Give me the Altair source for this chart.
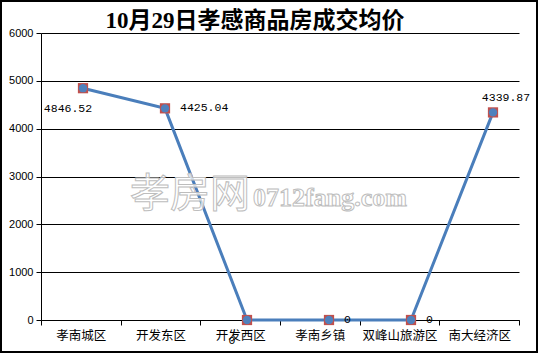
import altair as alt
import pandas as pd

# ---- data ----
categories = ["孝南城区", "开发东区", "开发西区", "孝南乡镇", "双峰山旅游区", "南大经济区"]
prices = [4846.52, 4425.04, 0, 0, 0, 4339.87]
y_ticks = [0, 1000, 2000, 3000, 4000, 5000, 6000]
title_text = "10月29日孝感商品房成交均价"
watermark_cn = "孝房网"
watermark_en = "0712fang.com"

below_left = ["孝南城区", "开发西区"]
right_side = ["开发东区", "孝南乡镇", "双峰山旅游区"]
above_right = ["南大经济区"]

df = pd.DataFrame({"cat": categories, "price": prices,
                   "label": [f"{v:g}" for v in prices]})

W, H = 478, 287
blue = "#4A7EBB"
red = "#C0504D"

yscale = alt.Scale(domain=[0, 6000], nice=False, zero=True)
yaxis = alt.Axis(title=None, values=y_ticks, format="d", grid=True, gridColor="black",
                 gridWidth=1, gridOpacity=1, domainColor="black",
                 tickColor="black", tickSize=5, labelPadding=3,
                 labelFont="Liberation Sans", labelFontSize=11,
                 labelColor="black")

# axis layer (band scale -> labels at band centers, ticks at band edges)
axis_layer = alt.Chart(df).mark_point(opacity=0).encode(
    x=alt.X("cat:N", sort=categories,
            scale=alt.Scale(type="band", paddingInner=0, paddingOuter=0),
            axis=alt.Axis(title=None, tickBand="extent", labelAngle=0,
                          domainColor="black", tickColor="black", tickSize=5,
                          labelFont="Noto Sans CJK SC", labelFontSize=12.5,
                          labelColor="black", labelPadding=4, grid=False)),
    y=alt.Y("price:Q", scale=yscale, axis=yaxis),
)

xpt = alt.X("cat:N", sort=categories,
            scale=alt.Scale(type="point", range=[42, 452], padding=0), axis=None)
ypt = alt.Y("price:Q", scale=yscale, axis=yaxis)

base = alt.Chart(df).encode(x=xpt, y=ypt)
line = base.mark_line(color=blue, strokeWidth=3)
squares = base.mark_point(shape="square", filled=True, color=red, size=105, opacity=1)
circles = base.mark_point(shape="circle", filled=True, color="#4F81BD", size=70, opacity=1)

lbl_font = dict(font="Liberation Mono", fontSize=11.5, color="black")
lab1 = base.mark_text(align="center", baseline="middle", dx=-15, dy=21, **lbl_font).encode(
    text="label:N").transform_filter(alt.FieldOneOfPredicate(field="cat", oneOf=below_left))
lab2 = base.mark_text(align="left", baseline="middle", dx=15, dy=0, **lbl_font).encode(
    text="label:N").transform_filter(alt.FieldOneOfPredicate(field="cat", oneOf=right_side))
lab3 = base.mark_text(align="center", baseline="middle", dx=13, dy=-14, **lbl_font).encode(
    text="label:N").transform_filter(alt.FieldOneOfPredicate(field="cat", oneOf=above_right))

one = pd.DataFrame({"t": [title_text], "w1": [watermark_cn], "w2": [watermark_en]})

wm1 = alt.Chart(one).mark_text(font="Noto Sans CJK SC", fontSize=40, fill="white",
                               fillOpacity=0.75, stroke="#bdbdbd", strokeWidth=1,
                               align="center", baseline="middle").encode(
    text="w1:N", x=alt.value(149), y=alt.value(162))
wm2 = alt.Chart(one).mark_text(font="Liberation Serif", fontSize=26, fontWeight="bold",
                               fill="white", fillOpacity=0.75, stroke="#bdbdbd",
                               strokeWidth=1, align="center", baseline="alphabetic").encode(
    text="w2:N", x=alt.value(289), y=alt.value(173))

marks = alt.layer(line, squares, circles, wm1, wm2, lab1, lab2, lab3)

title = alt.Chart(one).mark_text(font="Liberation Serif, Noto Sans CJK SC", fontSize=23,
                                 fontWeight="bold", color="black", align="center",
                                 baseline="alphabetic").encode(
    text="t:N", x=alt.value(214), y=alt.value(-5))

frame = alt.Chart(one).mark_rect(fill=None, stroke="black", strokeWidth=2).encode(
    x=alt.value(-40), x2=alt.value(496), y=alt.value(-32), y2=alt.value(319))

chart = alt.layer(axis_layer, marks, title, frame).resolve_scale(x="independent").properties(
    width=W, height=H,
    autosize=alt.AutoSizeParams(type="none"),
    padding={"left": 41, "top": 33, "right": 19, "bottom": 33},
    background="white",
).configure_view(stroke=None)

chart.save("out.html", embed_options={"renderer": "svg", "actions": False})
